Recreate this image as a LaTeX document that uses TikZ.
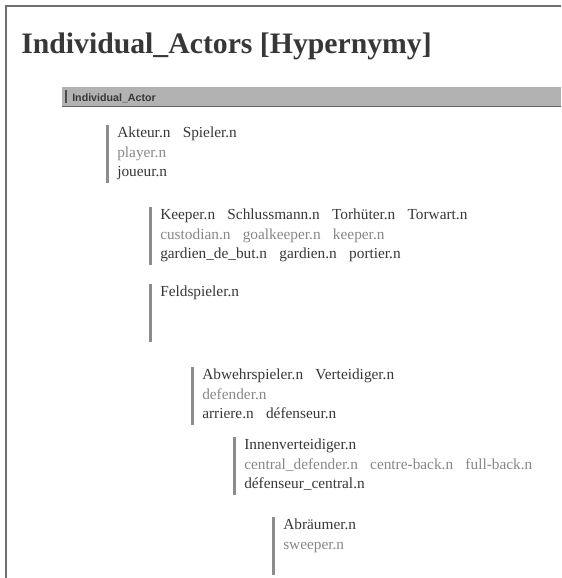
\documentclass[tikz,border=0pt]{standalone}
\usepackage{fontspec}
\setmainfont{Liberation Serif}
\newfontfamily\headsans{Liberation Sans}
\usepackage{xcolor}
\definecolor{detext}{RGB}{55,55,55}
\definecolor{engray}{RGB}{135,135,135}
\definecolor{barcol}{RGB}{140,140,140}
\definecolor{framecol}{RGB}{110,110,110}
\definecolor{headfill}{RGB}{178,178,178}
\usetikzlibrary{positioning}
\newcommand\engl[1]{\textcolor{engray}{#1}}
\newcommand\wsep{\hspace{0.8em}}
\tikzset{
  titletext/.style={anchor=base west,inner sep=0,font=\fontsize{22.3}{26}\selectfont\bfseries,text=detext},
  headtext/.style={anchor=base west,inner sep=0,font=\headsans\fontsize{8}{9}\selectfont\bfseries,text=detext},
  synset/.style={align=left,inner sep=0,font=\fontsize{11.5}{14.6}\selectfont,text=detext},
  synbar/.style={draw=barcol,line width=1.8pt},
  frame/.style={draw=framecol,line width=1.1pt},
}

\begin{document}
\begin{tikzpicture}[x=0.75pt,y=0.75pt]
\useasboundingbox (0,0) rectangle (561,-578);
\draw[frame] (6,-578) -- (6,-6) -- (561,-6);
\node[titletext] (title) at (21,-53) {Individual\_Actors [Hypernymy]};
% header bar
\fill[headfill] (62,-87) rectangle (561,-106);
\draw[draw=gray!80!black,line width=0.6pt] (62,-106) -- (561,-106);
\draw[draw=gray!60!black,line width=1pt] (66,-90) -- (66,-103);
\node[headtext] (head) at (72,-101) {Individual\_Actor};
% synsets
\node[synset,anchor=north west] (akteur) at (117,-127) {Akteur.n\wsep Spieler.n\\ \engl{player.n}\\ joueur.n};
\node[synset,below right=61.5pt and 32.25pt of akteur.north west] (keeper) {Keeper.n\wsep Schlussmann.n\wsep Torhüter.n\wsep Torwart.n\\ \engl{custodian.n\wsep goalkeeper.n\wsep keeper.n}\\ gardien\_de\_but.n\wsep gardien.n\wsep portier.n};
\node[synset,below right=57.75pt and 0pt of keeper.north west] (feld) {Feldspieler.n};
\node[synset,below right=62.25pt and 31.5pt of feld.north west] (abwehr) {Abwehrspieler.n\wsep Verteidiger.n\\ \engl{defender.n}\\ arriere.n\wsep défenseur.n};
\node[synset,below right=52.5pt and 31.5pt of abwehr.north west] (innen) {Innenverteidiger.n\\ \engl{central\_defender.n\wsep centre-back.n\wsep full-back.n}\\ défenseur\_central.n};
\node[synset,below right=60pt and 29.25pt of innen.north west] (abraeumer) {Abräumer.n\\ \engl{sweeper.n}};
\foreach \s in {akteur,keeper,feld,abwehr,innen,abraeumer}
  \draw[synbar] ([xshift=-7pt,yshift=1.5pt]\s.north west) -- ++(0,-43.5pt);
\end{tikzpicture}
\end{document}
